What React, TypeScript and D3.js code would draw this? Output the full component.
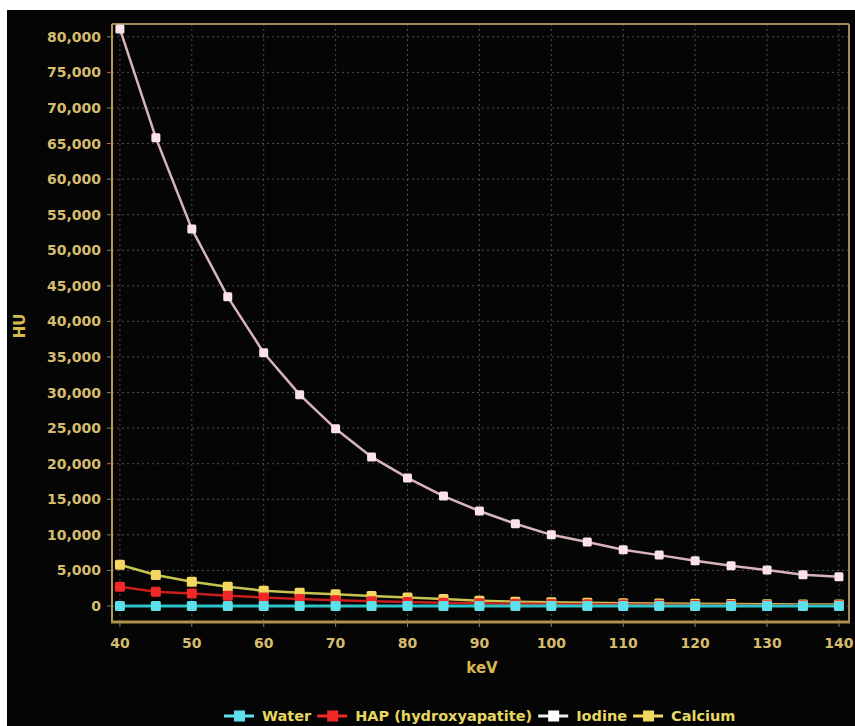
import React, { useEffect, useRef } from "react";
import * as d3 from "d3";

const keV = [40, 45, 50, 55, 60, 65, 70, 75, 80, 85, 90, 95, 100, 105, 110, 115, 120, 125, 130, 135, 140];
const water = [0, 0, 0, 0, 0, 0, 0, 0, 0, 0, 0, 0, 0, 0, 0, 0, 0, 0, 0, 0, 0];
const hap = [2700, 2000, 1750, 1450, 1200, 1000, 800, 650, 550, 450, 380, 320, 270, 230, 200, 170, 150, 130, 110, 100, 90];
const iodine = [81100, 65800, 53000, 43450, 35600, 29700, 24900, 20950, 18000, 15450, 13350, 11550, 10000, 9000, 7900, 7150, 6350, 5650, 5050, 4400, 4100];
const calcium = [5800, 4350, 3400, 2700, 2150, 1850, 1650, 1400, 1200, 1000, 750, 600, 520, 450, 400, 350, 300, 270, 240, 220, 200];
const xTicks = [40, 50, 60, 70, 80, 90, 100, 110, 120, 130, 140];
const yTicks = [0, 5000, 10000, 15000, 20000, 25000, 30000, 35000, 40000, 45000, 50000, 55000, 60000, 65000, 70000, 75000, 80000];

const seriesNames = ["Water", "HAP (hydroxyapatite)", "Iodine", "Calcium"];
const seriesData = [water, hap, iodine, calcium];
const lineColors = ["#2cc4c8", "#c81e1e", "#d8b4b8", "#c8c450"];
const markerColors = ["#5ee0ea", "#f02828", "#fbe2ea", "#f2d860"];

export default function App() {
  const ref = useRef<SVGSVGElement | null>(null);

  useEffect(() => {
    document.body.style.margin = "0";
    document.body.style.overflow = "hidden";
    const svg = d3.select(ref.current);
    svg.selectAll("*").remove();
    const W = 855, H = 726;
    const left = 112, right = 849, top = 24, bottom = 622;
    const x = d3.scaleLinear().domain([38.9, 141.4]).range([left, right]);
    const y = d3.scaleLinear().domain([-2250, 81800]).range([bottom, top]);

    svg.append("rect").attr("width", W).attr("height", H).attr("fill", "#ffffff");
    svg.append("rect").attr("x", 7).attr("y", 10).attr("width", W - 7).attr("height", H - 10).attr("fill", "#050505");

    const font = "'DejaVu Sans', Verdana, sans-serif";
    const tickColor = "#d6bd6e";

    // grid
    const g = svg.append("g");
    g.selectAll("line.vg").data(xTicks).join("line")
      .attr("x1", d => x(d)).attr("x2", d => x(d)).attr("y1", top).attr("y2", bottom)
      .attr("stroke", "#4e4e4e").attr("stroke-width", 1).attr("stroke-dasharray", "2,3");
    g.selectAll("line.hg").data(yTicks).join("line")
      .attr("x1", left).attr("x2", right).attr("y1", d => y(d)).attr("y2", d => y(d))
      .attr("stroke", "#4e4e4e").attr("stroke-width", 1).attr("stroke-dasharray", "2,3");

    // frame
    svg.append("line").attr("x1", left).attr("x2", right).attr("y1", top).attr("y2", top).attr("stroke", "#a08a60").attr("stroke-width", 2);
    svg.append("line").attr("x1", right).attr("x2", right).attr("y1", top).attr("y2", bottom).attr("stroke", "#a08a60").attr("stroke-width", 2);
    svg.append("line").attr("x1", left).attr("x2", left).attr("y1", top).attr("y2", bottom + 1).attr("stroke", "#b89c52").attr("stroke-width", 2);
    svg.append("line").attr("x1", left - 1).attr("x2", right + 1).attr("y1", bottom).attr("y2", bottom).attr("stroke", "#b0924a").attr("stroke-width", 3);

    // ticks
    svg.selectAll("line.yt").data(yTicks).join("line")
      .attr("x1", left - 5).attr("x2", left).attr("y1", d => y(d)).attr("y2", d => y(d))
      .attr("stroke", "#8a8060").attr("stroke-width", 1);
    svg.selectAll("line.xt").data(xTicks).join("line")
      .attr("x1", d => x(d)).attr("x2", d => x(d)).attr("y1", bottom).attr("y2", bottom + 5)
      .attr("stroke", "#8a8060").attr("stroke-width", 1);

    const fmt = d3.format(",");
    svg.selectAll("text.yl").data(yTicks).join("text")
      .attr("x", 101).attr("y", d => y(d)).attr("dy", "0.36em")
      .attr("text-anchor", "end").attr("font-family", font).attr("font-weight", "bold")
      .attr("font-size", 14).attr("fill", tickColor).text(d => fmt(d));
    svg.selectAll("text.xl").data(xTicks).join("text")
      .attr("x", d => x(d)).attr("y", 648)
      .attr("text-anchor", "middle").attr("font-family", font).attr("font-weight", "bold")
      .attr("font-size", 14).attr("fill", tickColor).text(d => String(d));

    svg.append("text").attr("x", 482).attr("y", 673).attr("text-anchor", "middle")
      .attr("font-family", font).attr("font-weight", "bold").attr("font-size", 15)
      .attr("fill", "#d8b850").text("keV");
    svg.append("text").attr("transform", "translate(25,326) rotate(-90)").attr("text-anchor", "middle")
      .attr("font-family", font).attr("font-weight", "bold").attr("font-size", 15)
      .attr("fill", "#d8b850").text("HU");

    // series
    const line = d3.line<number>().x((_, i) => x(keV[i])).y(d => y(d));
    const order = [2, 3, 1, 0];
    order.forEach(si => {
      const data = seriesData[si];
      svg.append("path").attr("d", line(data) as string).attr("fill", "none")
        .attr("stroke", lineColors[si]).attr("stroke-width", si === 0 ? 3 : 2.5);
      const ms = si === 2 ? 9 : 10;
      svg.selectAll(null).data(data).join("rect")
        .attr("x", (_, i) => x(keV[i]) - ms / 2).attr("y", d => y(d) - ms / 2)
        .attr("width", ms).attr("height", ms).attr("rx", 1.5)
        .attr("fill", markerColors[si]);
    });

    // legend
    const lg = svg.append("g");
    let cx = 224;
    const ly = 716;
    seriesNames.forEach((name, i) => {
      lg.append("line").attr("x1", cx).attr("x2", cx + 30).attr("y1", ly).attr("y2", ly)
        .attr("stroke", i === 2 ? "#f0f0f0" : markerColors[i]).attr("stroke-width", 3);
      lg.append("rect").attr("x", cx + 10).attr("y", ly - 5.5).attr("width", 11).attr("height", 11)
        .attr("fill", i === 2 ? "#ffffff" : markerColors[i]);
      const t = lg.append("text").attr("x", cx + 38).attr("y", ly).attr("dy", "0.36em")
        .attr("font-family", font).attr("font-weight", "bold").attr("font-size", 14.5)
        .attr("fill", "#e6d860").text(name);
      const w = (t.node() as SVGTextElement).getComputedTextLength();
      cx = cx + 38 + w + 6;
    });
  }, []);

  return (
    <svg ref={ref} width={855} height={726} style={{ position: "absolute", left: 0, top: 0, display: "block" }} />
  );
}
